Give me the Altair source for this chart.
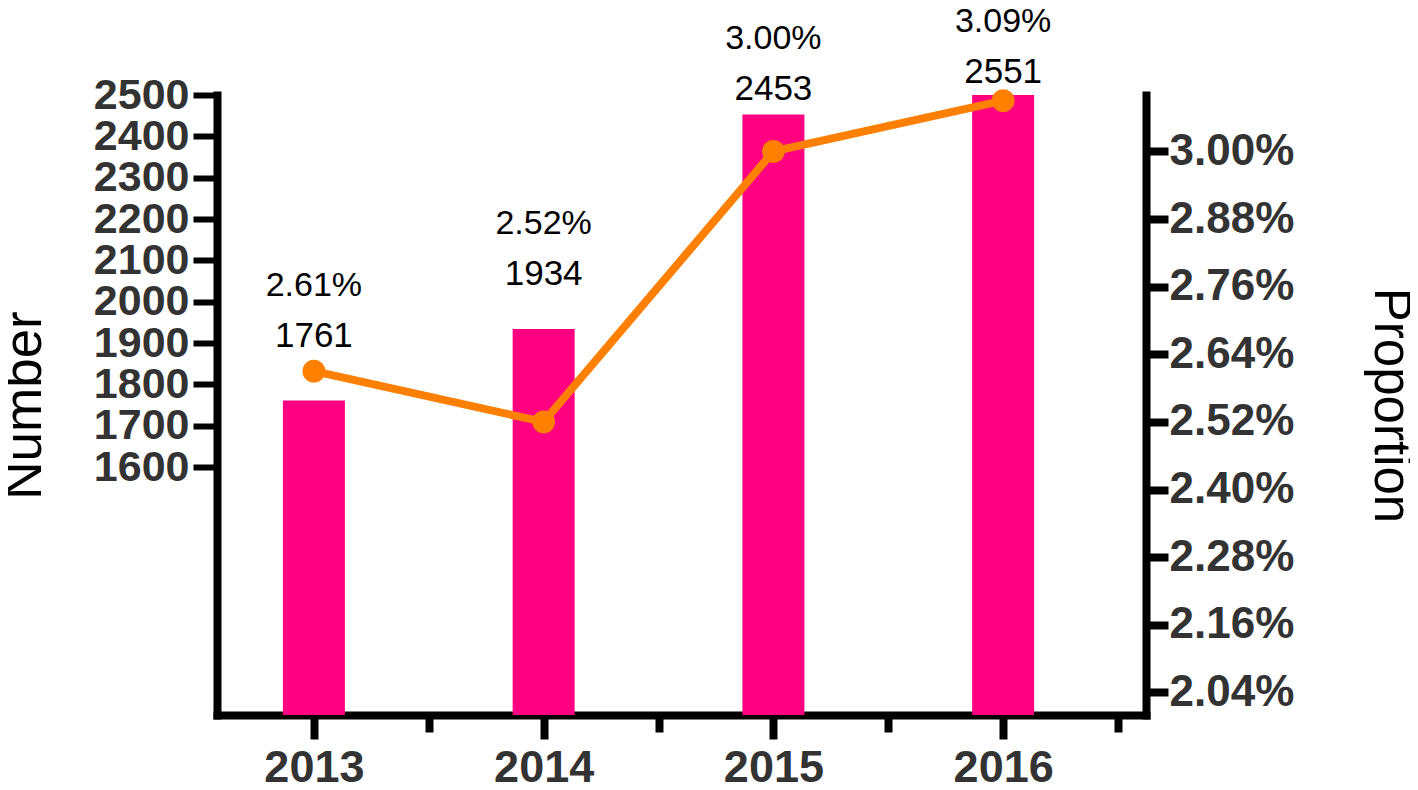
import altair as alt
import pandas as pd

# ---- data ----
years = [2013, 2014, 2015, 2016]
numbers = [1761, 1934, 2453, 2551]
proportions = [2.61, 2.52, 3.00, 3.09]          # percent

x_major_ticks = [2013, 2014, 2015, 2016]
x_minor_ticks = [2013.5, 2014.5, 2015.5, 2016.5]
left_tick_values = [1600, 1700, 1800, 1900, 2000, 2100, 2200, 2300, 2400, 2500]
right_tick_values = [2.04, 2.16, 2.28, 2.40, 2.52, 2.64, 2.76, 2.88, 3.00]

df = pd.DataFrame({"year": years, "number": numbers, "proportion": proportions})

FONT = "Liberation Sans"
PINK = "#FF0080"
ORANGE = "#FF8000"

x_scale = alt.Scale(domain=[2012.6, 2016.6], nice=False, zero=False)

x_major = alt.X(
    "year:Q",
    scale=x_scale,
    axis=alt.Axis(
        orient="bottom",
        values=x_major_ticks,
        format="d",
        tickSize=24,
        tickWidth=8,
        tickColor="black",
        domainWidth=8,
        domainColor="black",
        domainCap="square",
        labelFont=FONT,
        labelFontSize=45,
        labelFontWeight="bold",
        labelColor="#333333",
        labelPadding=6,
        labelFlush=False,
        labelOverlap=False,
        grid=False,
        title=None,
    ),
)

x_minor = alt.X(
    "year:Q",
    scale=x_scale,
    axis=alt.Axis(
        orient="bottom",
        values=x_minor_ticks,
        labels=False,
        domain=False,
        tickSize=17,
        tickWidth=8,
        tickColor="black",
        grid=False,
        title=None,
    ),
)

base = alt.Chart(df)

bars = base.mark_bar(size=62, color=PINK).encode(
    x=x_major,
    y=alt.Y(
        "number:Q",
        scale=alt.Scale(domain=[1000, 2500], nice=False, zero=False, clamp=True),
        axis=alt.Axis(
            orient="left",
            values=left_tick_values,
            format="d",
            tickSize=24,
            tickWidth=6,
            tickColor="black",
            domainWidth=8,
            domainColor="black",
            domainCap="square",
            labelFont=FONT,
            labelFontSize=43,
            labelFontWeight="bold",
            labelColor="#333333",
            labelPadding=4,
            labelFlush=False,
            labelOverlap=False,
            grid=False,
            title="Number",
            titleFont=FONT,
            titleFontSize=53,
            titleFontWeight="normal",
            titleColor="black",
            titleAngle=270,
            titleBaseline="alphabetic",
            titleX=-177,
        ),
    ),
)

line = base.mark_line(
    color=ORANGE,
    strokeWidth=8,
    point=alt.OverlayMarkDef(filled=True, size=520, color=ORANGE, opacity=1),
).encode(
    x=x_minor,
    y=alt.Y(
        "proportion:Q",
        scale=alt.Scale(domain=[2.0, 3.1], nice=False, zero=False),
        axis=alt.Axis(
            orient="right",
            values=right_tick_values,
            labelExpr="format(datum.value, '.2f') + '%'",
            tickSize=22,
            tickWidth=8,
            tickColor="black",
            domainWidth=8,
            domainColor="black",
            domainCap="square",
            labelFont=FONT,
            labelFontSize=44,
            labelFontWeight="bold",
            labelColor="#333333",
            labelPadding=1,
            labelFlush=False,
            labelOverlap=False,
            grid=False,
            title="Proportion",
            titleFont=FONT,
            titleFontSize=51,
            titleFontWeight="normal",
            titleColor="black",
            titleAngle=90,
            titleBaseline="alphabetic",
            titleX=228,
        ),
    ),
)

label_y = alt.Y(
    "label_pos:Q",
    scale=alt.Scale(domain=[700, 2435], nice=False, zero=False),
    axis=None,
)
x_plain = alt.X("year:Q", scale=x_scale, axis=None)

num_text = base.transform_calculate(
    label_pos="min(datum.number, 2500)"
).mark_text(font=FONT, fontSize=35, color="black", baseline="middle", align="center").encode(
    x=x_plain,
    y=label_y,
    text=alt.Text("number:Q", format="d"),
)

pct_text = base.transform_calculate(
    label_pos="min(datum.number, 2500)",
    pct_label="format(datum.proportion, '.2f') + '%'",
).mark_text(font=FONT, fontSize=34, color="black", baseline="middle", align="center", dy=-50).encode(
    x=x_plain,
    y=label_y,
    text="pct_label:N",
)

labels = alt.layer(num_text, pct_text)

chart = (
    alt.layer(bars, line, labels)
    .resolve_scale(y="independent")
    .resolve_axis(x="independent")
    .properties(
        width=929,
        height=620,
        padding={"left": 209, "top": 87, "right": 264, "bottom": 72},
        autosize=alt.AutoSizeParams(type="none"),
        background="white",
    )
    .configure_view(stroke=None)
)

chart.save("out.html", embed_options={"renderer": "svg", "actions": False})
